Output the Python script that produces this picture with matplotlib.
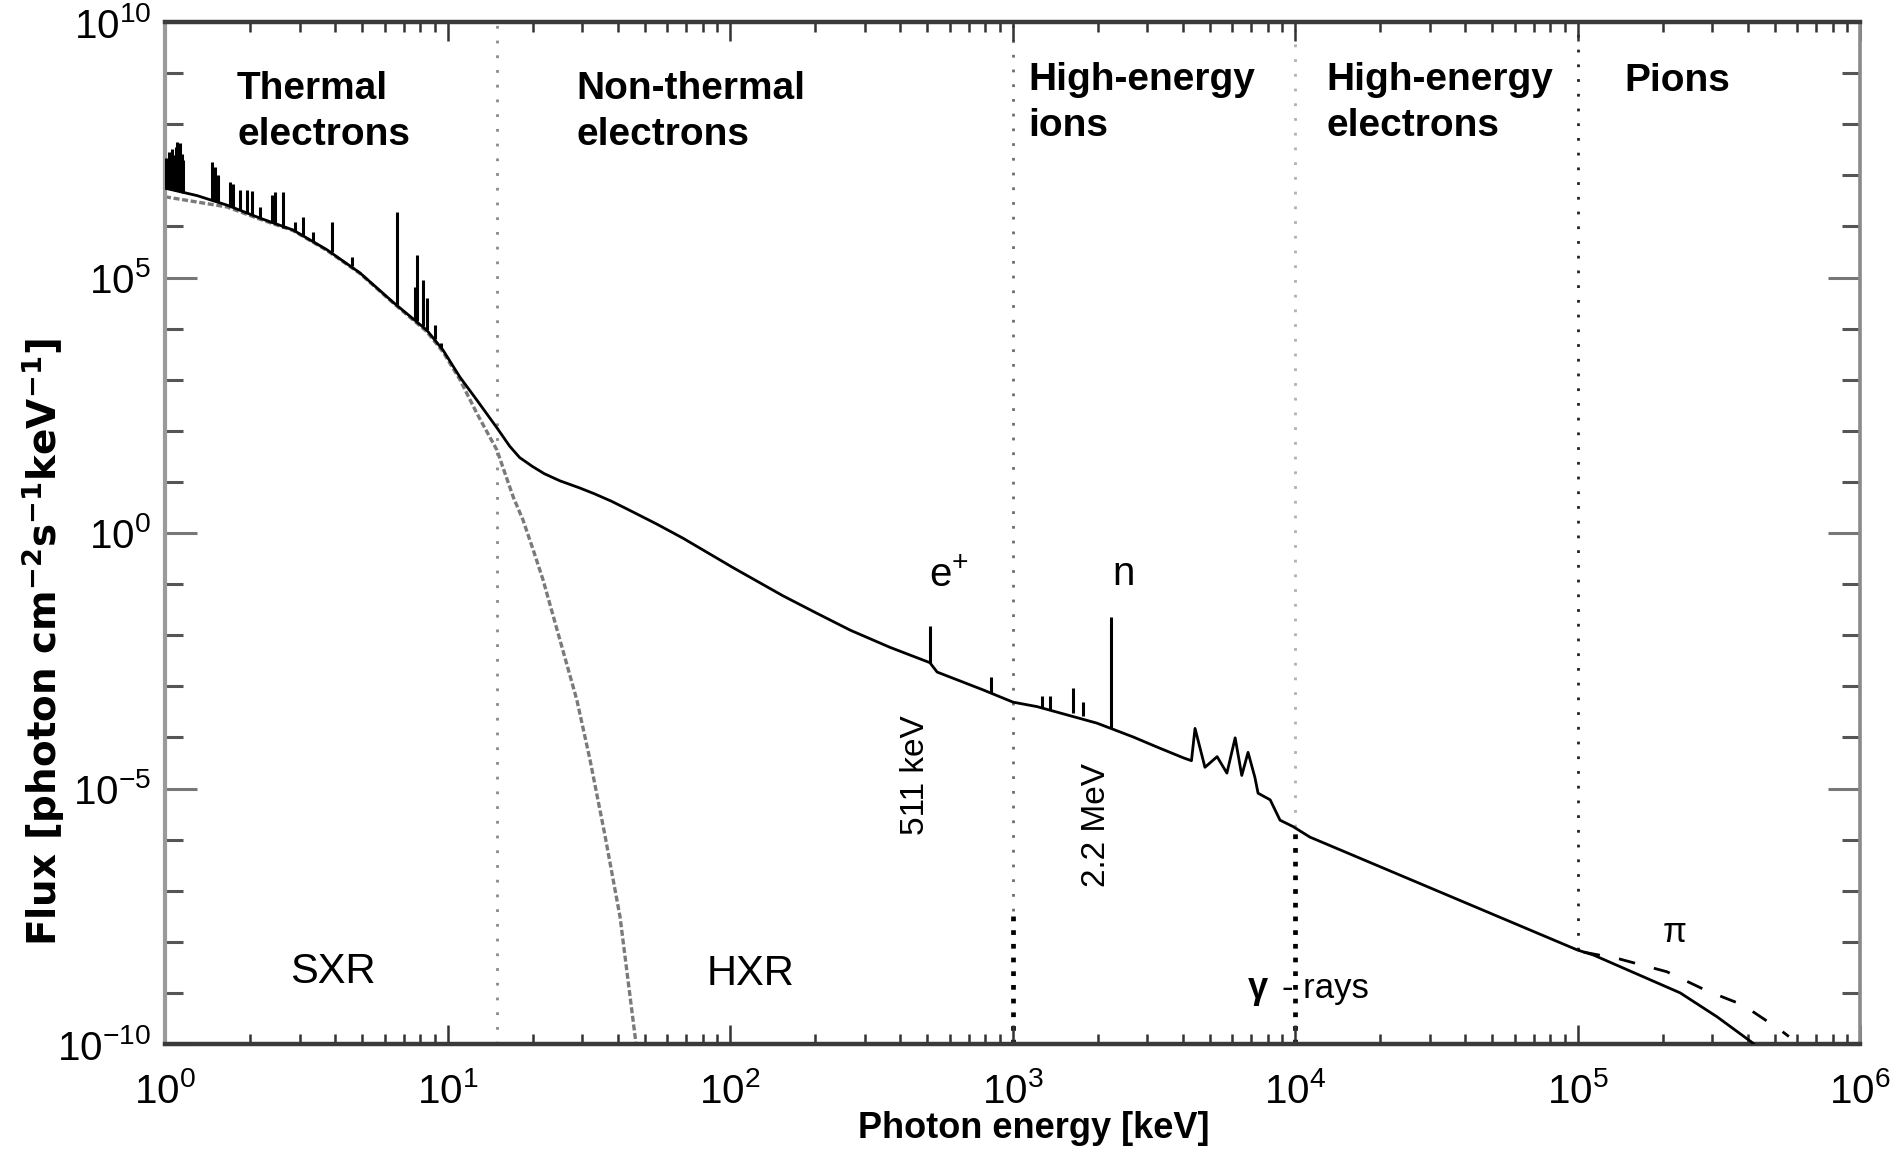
import numpy as np
import matplotlib
matplotlib.use('Agg')
import matplotlib.pyplot as plt
from matplotlib.ticker import FixedLocator, LogLocator, NullFormatter

plt.rcParams['font.family'] = ['Liberation Sans', 'DejaVu Sans']
plt.rcParams['mathtext.default'] = 'regular'

# total photon spectrum, continuum part (keV, photon cm^-2 s^-1 keV^-1)
tot_E = [1.0, 1.3, 1.66, 2.17, 2.84, 3.74, 4.9, 6.41, 8.45, 9.64, 11.07, 12.7,
         15.0, 16.6, 18.0, 20.0, 22.0, 25.0, 29.4, 33.0, 38.0, 43.2, 55.0, 68.2,
         102.5, 154, 200, 266, 368, 510,
         541, 787, 1004, 1222, 1991, 2674, 3243, 4018, 4300, 4427, 4800, 5300,
         5740, 6140, 6480, 6820, 7210, 7400, 8170, 8850, 9840, 11290,
         1.0e5, 1.14e5, 2.31e5, 3.12e5, 4.17e5, 4.5e5]
tot_F = [5.6e6, 4.0e6, 2.6e6, 1.45e6, 8.5e5, 3.5e5, 1.23e5, 3.3e4, 9.3e3, 3.8e3,
         1.12e3, 4.0e2, 1.12e2, 50, 30, 20, 14.5, 10.5, 7.6, 5.9, 4.2, 2.95,
         1.5, 0.79, 0.21, 0.059, 0.028, 0.0126, 5.8e-3, 2.9e-3,
         1.9e-3, 8.5e-4, 4.9e-4, 4.0e-4, 1.9e-4, 1.02e-4, 6.5e-5,
         4.0e-5, 3.5e-5, 1.5e-4, 2.6e-5, 4.2e-5, 2.0e-5, 9.8e-5, 1.8e-5, 5.1e-5,
         1.66e-5, 8.1e-6, 6.0e-6, 2.4e-6, 1.8e-6, 1.12e-6,
         6.9e-9, 5.5e-9, 1.0e-9, 3.4e-10, 1.05e-10, 7e-11]

# narrow lines: energy, continuum level under the line, line peak
line_E = [1.01, 1.02, 1.03, 1.04, 1.06, 1.07, 1.09, 1.10, 1.12, 1.13, 1.15, 1.16,
          1.47, 1.50, 1.54, 1.70, 1.74, 1.84,
          1.95, 2.03, 2.17, 2.39, 2.45, 2.62, 2.88, 3.08, 3.34, 3.89, 4.59, 6.63,
          7.67, 7.80, 8.2, 8.45, 9.0, 9.5,
          511, 839, 1271, 1358, 1634, 1779, 2223]
line_base = [5.5e6, 5.5e6, 5.4e6, 5.4e6, 5.3e6, 5.2e6, 5.1e6, 5.0e6, 4.9e6, 4.8e6,
             4.7e6, 4.6e6, 3.3e6, 3.2e6, 3.0e6, 2.5e6,
             2.4e6, 2.1e6, 1.86e6, 1.7e6, 1.45e6, 1.17e6, 1.1e6, 9.5e5, 8.1e5,
             6.9e5, 5.2e5, 3.1e5, 1.66e5, 2.9e4, 1.5e4, 1.4e4, 1.1e4, 9.3e3,
             6.3e3, 4.2e3,
             2.9e-3, 7.4e-4, 3.8e-4, 3.5e-4, 3.0e-4, 2.6e-4, 1.5e-4]
line_peak = [2.2e7, 1.6e7, 2.8e7, 2.0e7, 3.2e7, 2.5e7, 3.6e7, 4.5e7, 3.0e7, 4.2e7,
             2.6e7, 2.0e7, 1.8e7, 1.45e7, 1.0e7, 7.4e6,
             6.9e6, 5.1e6, 5.1e6, 5.0e6, 2.4e6, 4.1e6, 4.7e6, 4.7e6, 1.23e6,
             1.5e6, 7.8e5, 1.23e6, 2.5e5, 1.9e6, 6.5e4, 2.75e5, 8.9e4, 4.0e4,
             1.17e4, 5.2e3,
             1.5e-2, 1.5e-3, 6.5e-4, 6.5e-4, 9.3e-4, 4.9e-4, 2.3e-2]

# thermal component alone (grey dashed)
th_E = [1.0, 1.66, 2.17, 2.84, 3.74, 4.9, 6.41, 8.45, 9.64, 11.07, 12.7, 14.96,
        17.1, 18.5, 20.1, 21.8, 25.0, 28.7, 31.9, 36.0, 40.8, 46.5]
th_F = [3.8e6, 2.4e6, 1.38e6, 8.3e5, 3.4e5, 1.2e5, 3.2e4, 8.7e3, 3.5e3, 1.0e3,
        2.2e2, 42, 5.0, 1.8, 0.47, 0.12, 8.1e-3, 5.4e-4, 3.8e-5, 1.3e-6,
        3.1e-8, 1.0e-10]

# pion-decay variant at the high energy end (black dashed)
pi_E = [1.05e5, 1.41e5, 2.07e5, 2.87e5, 3.85e5, 5.21e5, 5.6e5]
pi_F = [6.3e-9, 4.6e-9, 2.6e-9, 1.1e-9, 5.8e-10, 1.9e-10, 1.4e-10]

# region boundaries (upper dotted part, lower heavy dotted part)
bound_E = [15, 1e3, 1e4, 1e5]
bound_top_lo = [1e-10, 4e-8, 1.8e-6, 6.9e-9]
bound_color = ['#8a8a8a', '#6e6e6e', '#b0b0b0', '#222222']
heavy_E = [1e3, 1e4]
heavy_hi = [4e-8, 1.8e-6]

regions = ['Thermal\nelectrons', 'Non-thermal\nelectrons', 'High-energy\nions',
           'High-energy\nelectrons', 'Pions']
region_x = [1.8, 28.7, 1135, 12900, 1.47e5]
region_y = [3.9e7, 3.9e7, 5.9e7, 5.9e7, 4.5e8]

fig = plt.figure(figsize=(18.91, 11.5), dpi=100)
ax = fig.add_axes([165 / 1891, 1 - 1044 / 1150, 1695 / 1891, 1022 / 1150])
ax.set_xscale('log')
ax.set_yscale('log')
ax.set_xlim(1, 1e6)
ax.set_ylim(1e-10, 1e10)

ax.vlines(bound_E, bound_top_lo, 1e10, colors=bound_color, linewidth=2.0,
          linestyles=(0, (1, 4.3)), zorder=1)
ax.vlines(heavy_E, 1e-10, heavy_hi, colors='black', linewidth=3.4,
          linestyles=(0, (1, 1.9)), zorder=1)

ax.plot(th_E, th_F, color='#7a7a7a', lw=2.4, ls=(0, (1.8, 0.8)), zorder=2)
ax.plot(pi_E, pi_F, color='black', lw=2.0, ls=(0, (6, 7)), zorder=2)
ax.plot(tot_E, tot_F, color='black', lw=2.0, zorder=3)
ax.vlines(line_E, line_base, line_peak, colors='black', linewidth=2.2, zorder=3)

# axes styling
ax.xaxis.set_major_locator(LogLocator(base=10, numticks=10))
ax.xaxis.set_minor_locator(LogLocator(base=10, subs=np.arange(2, 10), numticks=100))
ax.xaxis.set_minor_formatter(NullFormatter())
ax.yaxis.set_major_locator(FixedLocator([1e-10, 1e-5, 1, 1e5, 1e10]))
ax.yaxis.set_minor_locator(FixedLocator(10.0 ** np.arange(-10, 11)))
ax.yaxis.set_minor_formatter(NullFormatter())

ax.tick_params(axis='x', which='major', direction='in', top=True, length=14,
               width=1.8, color='#333333', labelsize=29, pad=20)
ax.tick_params(axis='x', which='minor', direction='in', top=True, length=7,
               width=1.8, color='#333333')
ax.tick_params(axis='y', which='major', direction='in', right=True, length=23,
               width=2.2, color='#777777', labelsize=29, pad=10)
ax.tick_params(axis='y', which='minor', direction='in', right=True, length=13,
               width=2.2, color='#555555')

for side, col, w in [('bottom', '#3a3a3a', 3.2), ('top', '#3a3a3a', 3.2),
                     ('left', '#9a9a9a', 3.0), ('right', '#8a8a8a', 2.6)]:
    ax.spines[side].set_color(col)
    ax.spines[side].set_linewidth(w)

# labels inside the plot
for txt, x, y in zip(regions, region_x, region_y):
    ax.text(x, y, txt, fontsize=28, fontweight='bold', ha='left', va='baseline',
            linespacing=1.35)

ax.text(3.93, 1.55e-9, 'SXR', fontsize=30, ha='center', va='baseline')
ax.text(118, 1.4e-9, 'HXR', fontsize=30, ha='center', va='baseline')
ax.text(6820, 8e-10, 'γ', fontsize=26, fontweight='bold', ha='left', va='baseline')
ax.text(9000, 8e-10, '- rays', fontsize=25, ha='left', va='baseline')
ax.text(2.21e5, 1.0e-8, 'π', fontsize=25, ha='center', va='baseline')
ax.text(506, 0.087, r'e$^{+}$', fontsize=29, ha='left', va='baseline')
ax.text(2250, 0.095, 'n', fontsize=29, ha='left', va='baseline')
ax.text(452, 1.8e-5, '511 keV', fontsize=24, rotation=90, ha='center', va='center')
ax.text(1991, 1.95e-6, '2.2 MeV', fontsize=24, rotation=90, ha='center', va='center')

fig.text(1034 / 1891, 1 - 1128 / 1150, 'Photon energy [keV]', fontsize=26,
         fontweight='bold', ha='center', va='center')
fig.text(43 / 1891, 1 - 642 / 1150, r'Flux [photon cm$^{-2}$s$^{-1}$keV$^{-1}$]',
         fontsize=28, fontweight='bold', family=['DejaVu Sans'], rotation=90,
         ha='center', va='center')

fig.savefig('out.png', dpi=100, facecolor='white')
